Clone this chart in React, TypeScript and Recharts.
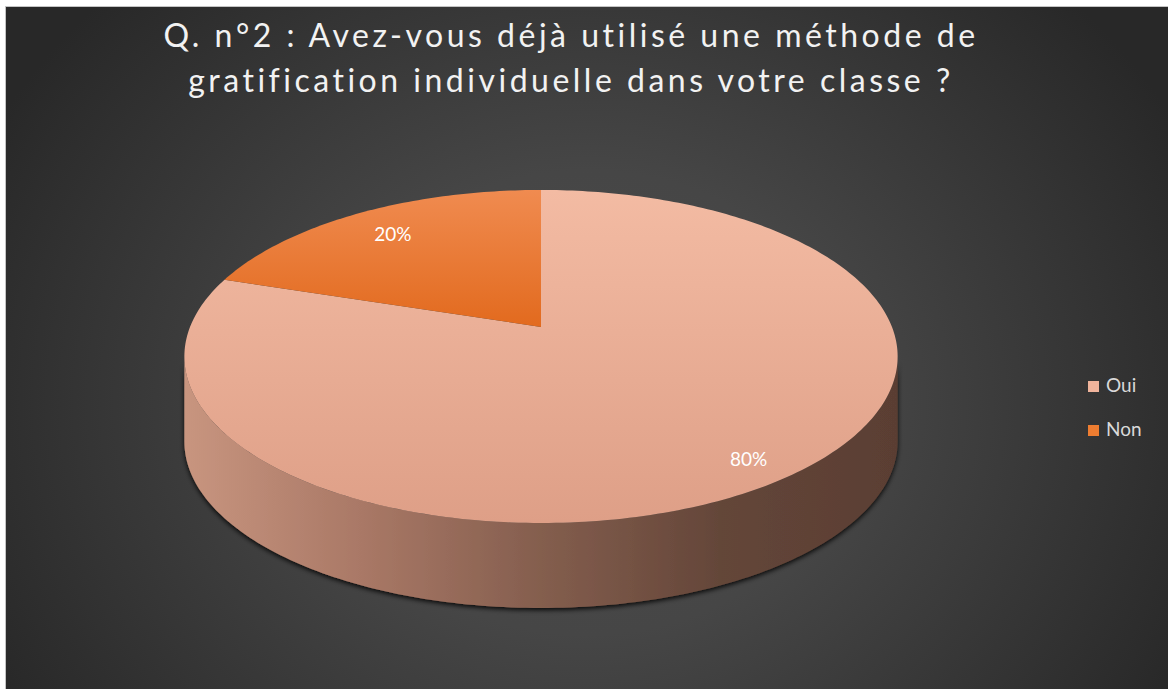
import React from "react";
import { PieChart, Pie, Cell, Legend } from "recharts";

const categories = ["Oui", "Non"];
const values = [80, 20];
const sliceColors = ["#f0b49c", "#ee7d31"];
const titleLines = [
  "Q. n°2 : Avez-vous déjà utilisé une méthode de",
  "gratification individuelle dans votre classe ?",
];

const data = categories.map((name, i) => ({ name, value: values[i] }));

const TILT = 0.4596;
const PERSP = -0.177;
const DEPTH = 85;
const RAD = Math.PI / 180;
const FRONT_L = -180 + Math.asin(-PERSP) / RAD;
const FRONT_R = -Math.asin(-PERSP) / RAD;

function project(cx: number, cy: number, r: number, deg: number, f = 1) {
  const u = Math.cos(deg * RAD) * f;
  const v = -Math.sin(deg * RAD) * f;
  const d = 1 + PERSP * v;
  return [cx + (r * u) / d, cy + (r * TILT * v) / d];
}

function arc(cx: number, cy: number, r: number, a1: number, a2: number, dy = 0) {
  const n = Math.max(2, Math.ceil(Math.abs(a2 - a1)));
  const pts: number[][] = [];
  for (let i = 0; i <= n; i++) {
    const t = a1 + ((a2 - a1) * i) / n;
    const [x, y] = project(cx, cy, r, t);
    pts.push([x, y + dy]);
  }
  return pts;
}

const toPath = (pts: number[][]) => pts.map((p) => `${p[0].toFixed(2)},${p[1].toFixed(2)}`).join(" L");

const topGrad = [
  ["#f3bba3", "#de9f87"],
  ["#f08b50", "#e26a1e"],
];

const labelFrac = [0.88, 0.8];

const renderSlice3D = (props: any) => {
  const { cx, cy, outerRadius, startAngle, endAngle, midAngle, index, percent } = props;
  const lo0 = Math.min(startAngle, endAngle);
  const hi0 = Math.max(startAngle, endAngle);
  const sides: React.ReactNode[] = [];
  [-360, 0, 360].forEach((shift) => {
    const lo = Math.max(lo0, FRONT_L + shift);
    const hi = Math.min(hi0, FRONT_R + shift);
    if (hi > lo) {
      const topArc = arc(cx, cy, outerRadius, lo, hi);
      const botArc = arc(cx, cy, outerRadius, hi, lo, DEPTH);
      sides.push(
        <path
          key={`side-${shift}`}
          d={`M${toPath(topArc)} L${toPath(botArc)} Z`}
          fill="url(#sideGrad)"
          filter="url(#pieShadow)"
        />
      );
    }
  });
  const top = arc(cx, cy, outerRadius, startAngle, endAngle);
  const topPath = `M${cx},${cy} L${toPath(top)} Z`;
  const [lx, ly] = project(cx, cy, outerRadius, midAngle, labelFrac[index]);
  return (
    <g key={`slice-${index}`}>
      <defs>
        <linearGradient id={`topGrad${index}`} x1="0" y1="0" x2="0" y2="1">
          <stop offset="0%" stopColor={topGrad[index][0]} />
          <stop offset="100%" stopColor={topGrad[index][1]} />
        </linearGradient>
        {index === 0 && (
          <>
            <linearGradient id="sideGrad" x1="0" y1="0" x2="1" y2="0">
              <stop offset="0%" stopColor="#c8957f" />
              <stop offset="25%" stopColor="#a97866" />
              <stop offset="50%" stopColor="#845e4e" />
              <stop offset="75%" stopColor="#644639" />
              <stop offset="100%" stopColor="#5a3e33" />
            </linearGradient>
            <filter id="pieShadow" x="-10%" y="-10%" width="120%" height="130%">
              <feDropShadow dx="0" dy="2" stdDeviation="2.5" floodColor="#000" floodOpacity="0.9" />
            </filter>
          </>
        )}
      </defs>
      {sides}
      <path d={topPath} fill={`url(#topGrad${index})`} />
      <text
        x={lx}
        y={ly}
        fill="#ffffff"
        textAnchor="middle"
        dominantBaseline="central"
        fontFamily="Lato, sans-serif"
        fontSize={19}
      >
        {`${Math.round(percent * 100)}%`}
      </text>
    </g>
  );
};

const renderLegend = () => (
  <div style={{ fontFamily: "Lato, sans-serif", fontSize: 19, color: "#d9d9d9" }}>
    {data.map((d, i) => (
      <div key={d.name} style={{ position: "relative", height: 44 }}>
        <div
          style={{
            position: "absolute",
            left: 0,
            top: 5,
            width: 11,
            height: 11,
            background: sliceColors[i],
          }}
        />
        <div style={{ position: "absolute", left: 18, top: -3, lineHeight: "24px" }}>{d.name}</div>
      </div>
    ))}
  </div>
);

export default function App() {
  return (
    <div style={{ position: "absolute", left: 0, top: 0, width: 1168, height: 689, background: "#ffffff", overflow: "hidden" }}>
      <div
        style={{
          position: "absolute",
          left: 5,
          top: 6,
          width: 1163,
          height: 683,
          boxSizing: "border-box",
          borderLeft: "1px solid #c4c4c4",
          borderTop: "1px solid #c4c4c4",
          background:
            "radial-gradient(ellipse 58% 85% at 50% 58%, #4b4b4b 0%, #464646 40%, #363636 72%, #282828 100%)",
        }}
      />
      <svg
        width={1168}
        height={689}
        style={{ position: "absolute", left: 0, top: 0, pointerEvents: "none" }}
      >
        {titleLines.map((t, i) => (
          <text
            key={i}
            x={571}
            y={47 + i * 45}
            textAnchor="middle"
            fill="#f2f2f2"
            fontFamily="Lato, sans-serif"
            fontSize={32}
            letterSpacing={3.5}
          >
            {t}
          </text>
        ))}
      </svg>
      <div style={{ position: "absolute", left: 0, top: 0 }}>
        <PieChart width={1168} height={689} margin={{ top: 0, right: 0, bottom: 0, left: 0 }}>
          <Pie
            data={data}
            dataKey="value"
            nameKey="name"
            cx={541}
            cy={327}
            outerRadius={351}
            startAngle={90}
            endAngle={-270}
            stroke="none"
            labelLine={false}
            label={renderSlice3D}
            isAnimationActive={false}
          >
            {data.map((d, i) => (
              <Cell key={d.name} fill={sliceColors[i]} fillOpacity={0} />
            ))}
          </Pie>
          <Legend
            content={renderLegend}
            wrapperStyle={{ position: "absolute", left: 1088, top: 376, width: 70 }}
          />
        </PieChart>
      </div>
    </div>
  );
}
